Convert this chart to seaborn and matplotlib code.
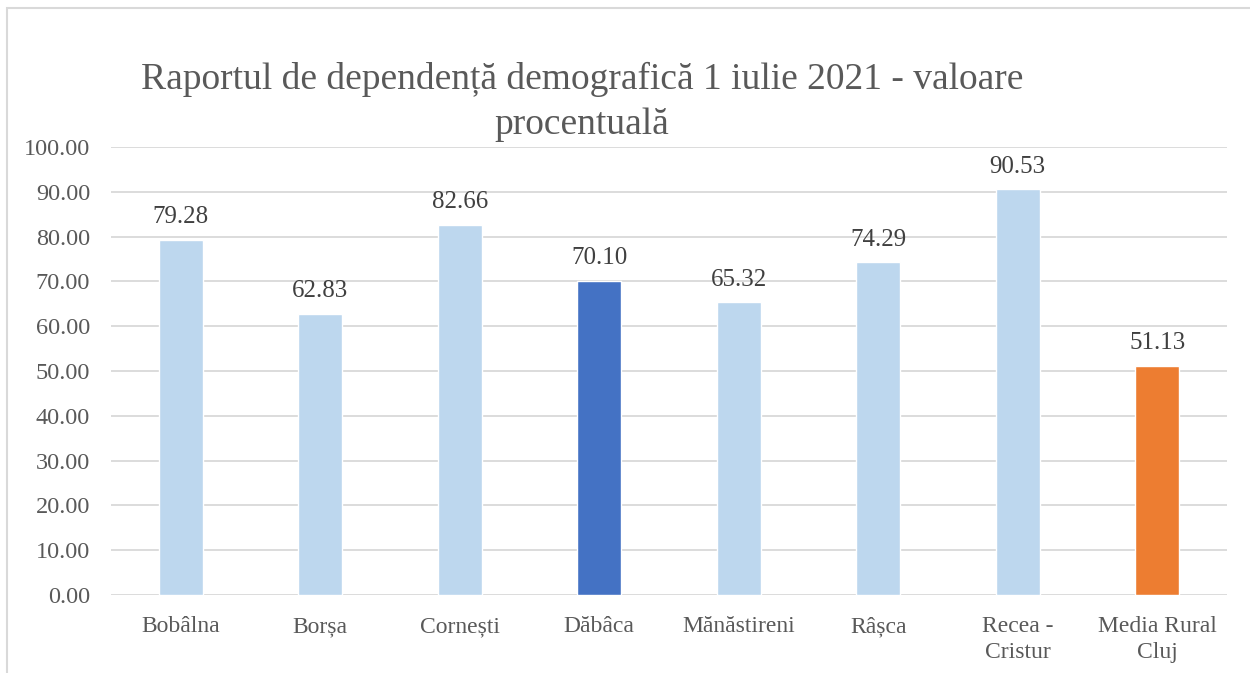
import seaborn as sns
import matplotlib.pyplot as plt
import pandas as pd
from matplotlib.patches import Rectangle

localitati = ["Bobâlna", "Borșa", "Cornești", "Dăbâca", "Mănăstireni", "Râșca",
              "Recea -\nCristur", "Media Rural\nCluj"]
valori = [79.28, 62.83, 82.66, 70.10, 65.32, 74.29, 90.53, 51.13]
culori = ["#BDD7EE", "#BDD7EE", "#BDD7EE", "#4472C4", "#BDD7EE", "#BDD7EE",
          "#BDD7EE", "#ED7D31"]
yticks = [0, 10, 20, 30, 40, 50, 60, 70, 80, 90, 100]

sns.set_theme(style="white")
plt.rcParams['font.family'] = ['Liberation Serif', 'DejaVu Serif']
gri = "#595959"

df = pd.DataFrame({"loc": localitati, "val": valori})

fig = plt.figure(figsize=(12.5, 6.73), dpi=100)
ax = fig.add_axes([111 / 1250, 1 - 595 / 673, 1116 / 1250, 448 / 673])

sns.barplot(data=df, x="loc", y="val", hue="loc", palette=culori, legend=False,
            width=0.315, saturation=1, ax=ax)

ax.set_ylim(0, 100)
ax.set_xlim(-0.5, len(localitati) - 0.5)
ax.set_yticks(yticks)
ax.set_yticklabels([f"{v:.2f}" for v in yticks], fontsize=17.5, color=gri)
ax.set_xticks(range(len(localitati)))
ax.set_xticklabels(localitati, fontsize=17, color=gri, linespacing=1.3)
ax.tick_params(axis='x', length=0, pad=15)
ax.tick_params(axis='y', length=0, pad=15)
ax.yaxis.grid(True, color="#D9D9D9", linewidth=1.3)
ax.set_axisbelow(True)
for s in ax.spines.values():
    s.set_visible(False)
ax.set_xlabel("")
ax.set_ylabel("")

for i, v in enumerate(valori):
    ax.text(i, v + 2.6, f"{v:.2f}", ha="center", va="bottom", fontsize=18, color="#404040")

fig.text(582 / 1250, 1 - 102 / 673,
         "Raportul de dependență demografică 1 iulie 2021 - valoare\nprocentuală",
         ha="center", va="center", fontsize=27, color=gri, linespacing=1.38)

fig.patches.append(Rectangle((7 / 1250, -0.01), 1.02, 1 - 8 / 673 + 0.01,
                             transform=fig.transFigure, fill=False,
                             edgecolor="#D9D9D9", linewidth=1.5))

fig.savefig("out.png", dpi=100)
